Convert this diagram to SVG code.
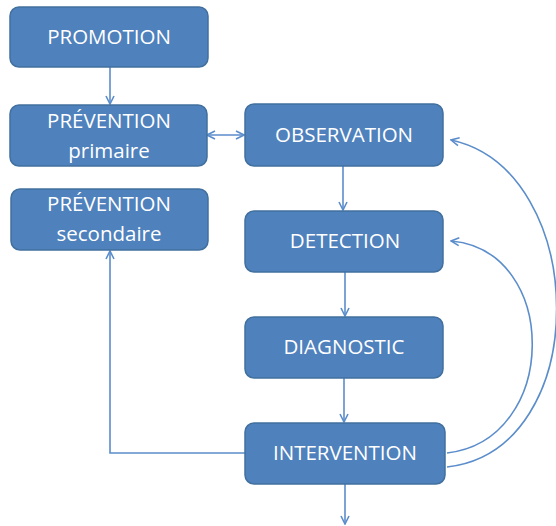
<svg xmlns="http://www.w3.org/2000/svg" width="556" height="526" viewBox="0 0 556 526">
<style>
.box{fill:#4F81BD;stroke:#41709F;stroke-width:1.5}
.t{fill:#fff;font-family:"Open Sans","Liberation Sans",sans-serif;font-size:20.5px;text-anchor:middle}
.c{fill:none;stroke:#5B8DCB;stroke-width:1.6}
</style>
<defs>
<marker id="a" viewBox="0 0 10 10" refX="9" refY="5" markerWidth="10" markerHeight="10" markerUnits="userSpaceOnUse" orient="auto-start-reverse">
<path d="M1,1 L9,5 L1,9" fill="none" stroke="#5B8DCB" stroke-width="1.6"/>
</marker>
</defs>
<g id="connectors">
<line class="c" x1="110" y1="67" x2="110" y2="104" marker-end="url(#a)"/>
<line class="c" x1="207" y1="135" x2="244" y2="135" marker-start="url(#a)" marker-end="url(#a)"/>
<line class="c" x1="343" y1="166" x2="343" y2="210" marker-end="url(#a)"/>
<line class="c" x1="345" y1="272" x2="345" y2="316" marker-end="url(#a)"/>
<line class="c" x1="344" y1="378" x2="344" y2="422" marker-end="url(#a)"/>
<line class="c" x1="345" y1="484" x2="345" y2="524" marker-end="url(#a)"/>
<polyline class="c" points="245,453 110,453 110,251" marker-end="url(#a)"/>
<path class="c" d="M447,453 C560,440 560,250 451,241" marker-end="url(#a)"/>
<path class="c" d="M447,467 C595,450 590,170 451,140" marker-end="url(#a)"/>
</g>
<g id="promotion"><rect class="box" x="10" y="7" width="198" height="60" rx="9"/><text class="t" x="109" y="44">PROMOTION</text></g>
<g id="prevention-primaire"><rect class="box" x="10" y="105" width="197" height="61" rx="9"/><text class="t" x="109" y="128">PRÉVENTION</text><text class="t" x="109" y="158">primaire</text></g>
<g id="prevention-secondaire"><rect class="box" x="11" y="189" width="197" height="61" rx="9"/><text class="t" x="109" y="211">PRÉVENTION</text><text class="t" x="109" y="241">secondaire</text></g>
<g id="observation"><rect class="box" x="245" y="104" width="198" height="62" rx="9"/><text class="t" x="344" y="142">OBSERVATION</text></g>
<g id="detection"><rect class="box" x="245" y="211" width="198" height="61" rx="9"/><text class="t" x="345" y="248">DETECTION</text></g>
<g id="diagnostic"><rect class="box" x="245" y="317" width="198" height="61" rx="9"/><text class="t" x="344" y="354">DIAGNOSTIC</text></g>
<g id="intervention"><rect class="box" x="245" y="423" width="200" height="61" rx="9"/><text class="t" x="345" y="460">INTERVENTION</text></g>
</svg>
